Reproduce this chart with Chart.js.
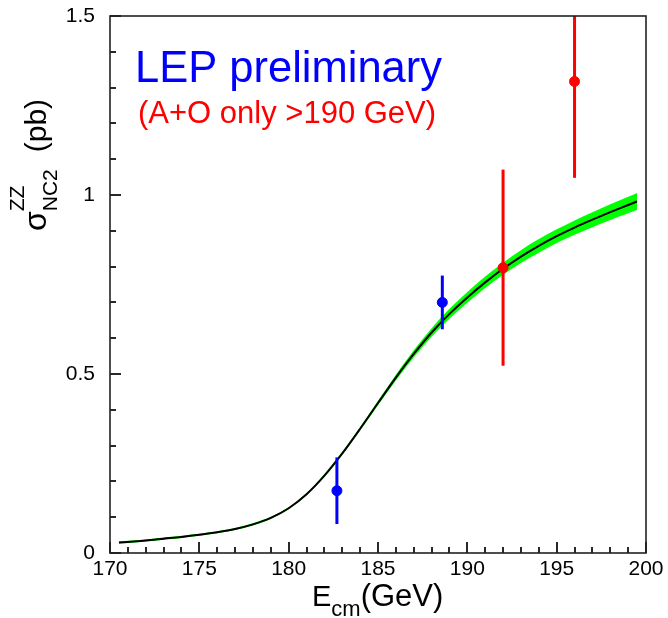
<!DOCTYPE html>
<html lang="en">
<head>
    <meta charset="UTF-8">
    <title>ZZ cross section - LEP preliminary</title>
    <script src="https://cdn.jsdelivr.net/npm/chart.js"></script>
    <style>
        body { margin: 0; background: #fff; }
    </style>
</head>
<body>
    <canvas id="chart" width="668" height="618"></canvas>

<script>
// ---------------- data ----------------

// theory curve (sigma ZZ, NC2) with its uncertainty band
const curveE  = [170.5, 171, 172, 173, 174, 175, 176, 177, 178, 179, 180, 181, 182, 183, 184, 185,
                 186, 187, 188, 189, 190, 191, 192, 193, 194, 195, 196, 197, 198, 199, 199.5];
const curveXS = [0.029, 0.031, 0.035, 0.040, 0.045, 0.051, 0.058, 0.067, 0.080, 0.098, 0.125, 0.164, 0.216, 0.278, 0.347, 0.419,
                 0.490, 0.556, 0.616, 0.668, 0.714, 0.756, 0.794, 0.828, 0.858, 0.885, 0.909, 0.931, 0.952, 0.972, 0.982];
const bandHalf = [0.003, 0.003, 0.003, 0.003, 0.003, 0.003, 0.003, 0.003, 0.003, 0.003, 0.003, 0.003, 0.004, 0.004, 0.005, 0.006,
                  0.008, 0.010, 0.012, 0.014, 0.015, 0.016, 0.017, 0.018, 0.019, 0.019, 0.020, 0.021, 0.022, 0.023, 0.024];

// LEP combined points (blue)
const lepE   = [182.7, 188.6];
const lepXS  = [0.174, 0.700];
const lepErr = [0.093, 0.075];

// A+O only points above 190 GeV (red)
const aoE   = [192.0, 196.0];
const aoXS  = [0.797, 1.317];
const aoErr = [0.274, 0.269];

const xTicks = [170, 175, 180, 185, 190, 195, 200];
const yTicks = [0, 0.5, 1, 1.5];

// ---------------- build datasets ----------------
const FONT = "'Liberation Sans', Arial, Helvetica, sans-serif";

function pts(xs, ys) {
    return xs.map((x, i) => ({x: x, y: ys[i]}));
}

function errorBars(xs, ys, errs, color) {
    return xs.map((x, i) => ({
        data: [{x: x, y: ys[i] - errs[i]}, {x: x, y: ys[i] + errs[i]}],
        borderColor: color,
        borderWidth: 3,
        pointRadius: 0,
        clip: 0,
        order: 2
    }));
}

const datasets = [
    {
        label: 'band up',
        data: pts(curveE, curveXS.map((v, i) => v + bandHalf[i])),
        borderWidth: 0,
        borderColor: 'rgba(0,0,0,0)',
        pointRadius: 0,
        cubicInterpolationMode: 'monotone',
        fill: false,
        order: 5
    },
    {
        label: 'band down',
        data: pts(curveE, curveXS.map((v, i) => v - bandHalf[i])),
        borderWidth: 0,
        borderColor: 'rgba(0,0,0,0)',
        backgroundColor: '#00ff00',
        pointRadius: 0,
        cubicInterpolationMode: 'monotone',
        fill: '-1',
        order: 4
    },
    {
        label: 'curve',
        data: pts(curveE, curveXS),
        borderColor: '#000',
        borderWidth: 2,
        pointRadius: 0,
        cubicInterpolationMode: 'monotone',
        fill: false,
        order: 3
    },
    ...errorBars(lepE, lepXS, lepErr, '#0000ff'),
    ...errorBars(aoE, aoXS, aoErr, '#ff0000'),
    {
        label: 'LEP',
        data: pts(lepE, lepXS),
        showLine: false,
        pointRadius: 5,
        pointBackgroundColor: '#0000ff',
        pointBorderColor: '#0000ff',
        order: 1
    },
    {
        label: 'A+O',
        data: pts(aoE, aoXS),
        showLine: false,
        pointRadius: 5,
        pointBackgroundColor: '#ff0000',
        pointBorderColor: '#ff0000',
        order: 1
    }
];

// frame with inward ticks, like the ROOT style
const framePlugin = {
    id: 'frame',
    afterDraw(chart) {
        const ctx = chart.ctx;
        const a = chart.chartArea;
        const sx = chart.scales.x;
        const sy = chart.scales.y;
        ctx.save();
        ctx.strokeStyle = '#111';
        ctx.lineWidth = 1.8;
        for (let v = 170; v <= 200; v++) {
            const px = Math.round(sx.getPixelForValue(v));
            const len = (v % 5 === 0) ? 11 : 6;
            ctx.beginPath();
            ctx.moveTo(px, a.bottom);
            ctx.lineTo(px, a.bottom - len);
            ctx.stroke();
        }
        for (let i = 0; i <= 15; i++) {
            const py = Math.round(sy.getPixelForValue(i / 10));
            const len = (i % 5 === 0) ? 11 : 6;
            ctx.beginPath();
            ctx.moveTo(a.left, py);
            ctx.lineTo(a.left + len, py);
            ctx.stroke();
        }
        ctx.strokeStyle = '#222';
        ctx.lineWidth = 1.6;
        ctx.strokeRect(a.left, a.top, a.right - a.left, a.bottom - a.top);
        ctx.restore();
    }
};

// axis titles and the labels inside the frame
const textPlugin = {
    id: 'texts',
    afterDraw(chart) {
        const ctx = chart.ctx;
        const a = chart.chartArea;
        ctx.save();
        ctx.textBaseline = 'alphabetic';
        ctx.textAlign = 'left';

        // inside labels
        ctx.fillStyle = '#0000ff';
        ctx.font = '43.5px ' + FONT;
        ctx.fillText('LEP preliminary', a.left + 25, 82);
        ctx.fillStyle = '#ff0000';
        ctx.font = '31px ' + FONT;
        ctx.fillText('(A+O only >190 GeV)', a.left + 28, 123);

        // x title  E_cm(GeV)
        ctx.fillStyle = '#000';
        let xx = 312;
        ctx.font = '29px ' + FONT;
        ctx.fillText('E', xx, 606);
        xx += ctx.measureText('E').width;
        ctx.font = '22px ' + FONT;
        ctx.fillText('cm', xx, 616);
        xx += ctx.measureText('cm').width;
        ctx.font = '31px ' + FONT;
        ctx.fillText('(GeV)', xx, 606);

        // y title  sigma^ZZ_NC2 (pb), rotated
        ctx.translate(46, 231);
        ctx.rotate(-Math.PI / 2);
        let t = 0;
        ctx.font = '32px ' + FONT;
        ctx.fillText('σ', t, 0);
        t += ctx.measureText('σ').width;
        ctx.font = '21px ' + FONT;
        ctx.fillText('ZZ', t, -22);
        ctx.fillText('NC2', t, 11);
        t += ctx.measureText('NC2').width + 17;
        ctx.font = '30px ' + FONT;
        ctx.fillText('(pb)', t, 0);
        ctx.restore();
    }
};

new Chart(document.getElementById('chart'), {
    type: 'line',
    data: { datasets: datasets },
    options: {
        responsive: false,
        animation: false,
        devicePixelRatio: 1,
        layout: { padding: 0 },
        plugins: {
            legend: { display: false },
            tooltip: { enabled: false }
        },
        scales: {
            x: {
                type: 'linear',
                min: 170,
                max: 200,
                afterFit(scale) {
                    scale.height = 65;
                    scale.paddingLeft = 0;
                    scale.paddingRight = 22;
                },
                afterBuildTicks(scale) { scale.ticks = xTicks.map(v => ({value: v})); },
                grid: { display: false, drawTicks: false },
                border: { display: false },
                ticks: {
                    autoSkip: false,
                    maxRotation: 0,
                    padding: 4,
                    color: '#000',
                    font: { family: FONT, size: 21 },
                    callback: v => String(v)
                }
            },
            y: {
                type: 'linear',
                min: 0,
                max: 1.5,
                afterFit(scale) {
                    scale.width = 110;
                    scale.paddingTop = 16;
                    scale.paddingBottom = 0;
                },
                afterBuildTicks(scale) { scale.ticks = yTicks.map(v => ({value: v})); },
                grid: { display: false, drawTicks: false },
                border: { display: false },
                ticks: {
                    padding: 15,
                    color: '#000',
                    font: { family: FONT, size: 21 },
                    callback: v => String(v)
                }
            }
        }
    },
    plugins: [framePlugin, textPlugin]
});
</script>
</body>
</html>
